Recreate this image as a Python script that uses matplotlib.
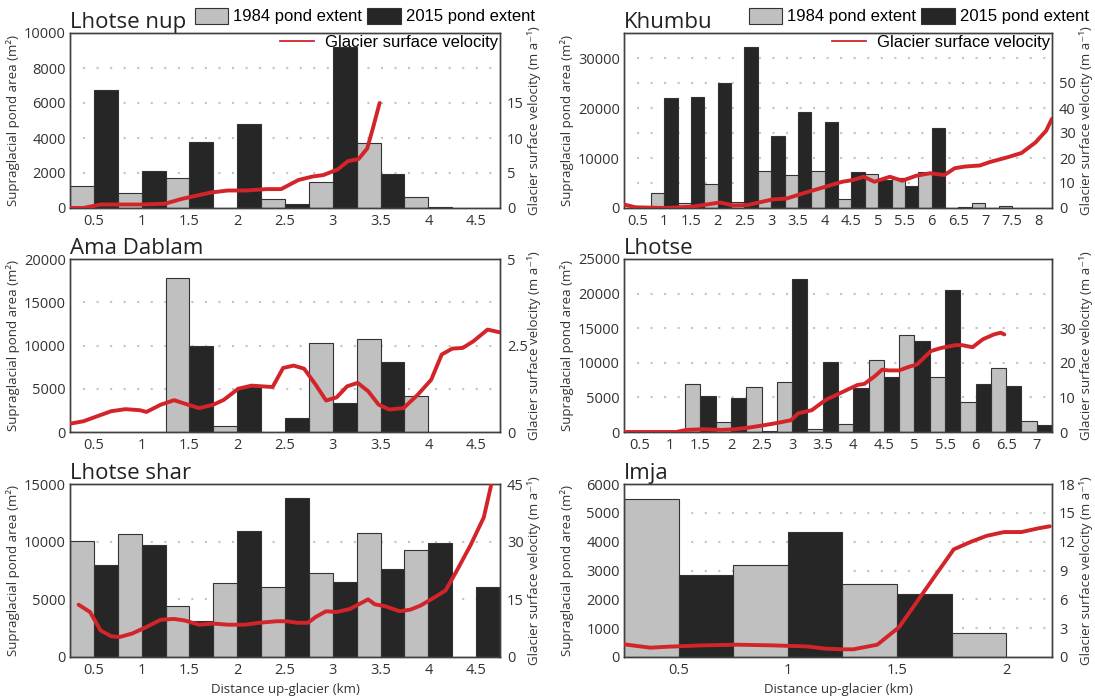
import matplotlib
matplotlib.use("Agg")
import numpy as np
from matplotlib import pyplot as plt
from matplotlib.patches import Patch
from matplotlib.lines import Line2D

plt.rcParams['font.family'] = ['Open Sans', 'DejaVu Sans']

# Lhotse nup
nup_km = [0.5, 1, 1.5, 2, 2.5, 3, 3.5, 4, 4.5]
nup_1984 = [1250, 870, 1710, 0, 520, 1480, 3740, 640, 0]
nup_2015 = [6720, 2100, 3760, 4800, 230, 9190, 1930, 40, 0]
nup_vel_km = [0.25, 0.39, 0.57, 0.98, 1.24, 1.42, 1.72, 1.90, 2.09, 2.31, 2.46, 2.64,
              2.79, 2.90, 3.05, 3.16, 3.27, 3.36, 3.42, 3.49]
nup_vel = [0, 0, 0.5, 0.5, 0.6, 1.3, 2.2, 2.5, 2.5, 2.7, 2.7, 4.0,
           4.5, 4.7, 5.5, 6.7, 7.0, 8.5, 11.4, 15.0]

# Khumbu
khu_km = [0.5, 1, 1.5, 2, 2.5, 3, 3.5, 4, 4.5, 5, 5.5, 6, 6.5, 7, 7.5, 8]
khu_1984 = [0, 3050, 1020, 4890, 1150, 7470, 6590, 7330, 1830, 6720, 6040, 7200, 0, 950, 480, 0]
khu_2015 = [0, 22060, 22200, 25050, 32250, 14400, 19280, 17100, 7200, 5570, 4350, 16090, 150, 0, 0, 0]
khu_vel_km = [0.25, 0.46, 0.99, 1.51, 2.04, 2.30, 2.56, 3.02, 3.29, 3.68, 4.00, 4.33, 4.53, 4.73,
              4.93, 5.22, 5.45, 5.71, 5.97, 6.24, 6.43, 6.63, 6.90, 7.09, 7.42, 7.68, 7.94, 8.14, 8.25]
khu_vel = [1.4, 0.3, 0, 0.5, 2.2, 1.0, 1.2, 3.4, 3.8, 6.4, 8.4, 10.5, 11.2, 12.5,
           10.5, 12.5, 10.9, 12.9, 13.9, 13.2, 15.9, 16.6, 17.0, 18.4, 20.3, 22.0, 26.2, 30.9, 35.7]

# Ama Dablam
ama_km = [0.5, 1, 1.5, 2, 2.5, 3, 3.5, 4, 4.5]
ama_1984 = [0, 0, 17800, 690, 0, 10290, 10750, 4160, 0]
ama_2015 = [0, 0, 9980, 5200, 1620, 3350, 8090, 0, 0]
ama_vel_km = [0.25, 0.39, 0.53, 0.68, 0.83, 0.98, 1.05, 1.20, 1.34, 1.45, 1.60, 1.75, 1.86, 2.01,
              2.15, 2.37, 2.48, 2.59, 2.70, 2.82, 2.93, 3.04, 3.15, 3.26, 3.37, 3.48, 3.59, 3.74,
              3.89, 4.03, 4.14, 4.25, 4.36, 4.47, 4.62, 4.75]
ama_vel = [0.24, 0.31, 0.45, 0.60, 0.66, 0.63, 0.58, 0.79, 0.92, 0.82, 0.69, 0.79, 0.93, 1.25,
           1.34, 1.30, 1.85, 1.92, 1.83, 1.37, 0.91, 1.00, 1.32, 1.42, 1.18, 0.79, 0.65, 0.69,
           1.08, 1.51, 2.24, 2.41, 2.43, 2.62, 2.96, 2.88]

# Lhotse
lho_km = [0.5, 1, 1.5, 2, 2.5, 3, 3.5, 4, 4.5, 5, 5.5, 6, 6.5, 7]
lho_1984 = [0, 0, 6870, 1450, 6480, 7250, 480, 1160, 10440, 13970, 7880, 4350, 9190, 1640]
lho_2015 = [0, 0, 5220, 4980, 200, 22100, 10150, 6290, 7930, 13100, 20550, 6870, 6620, 1060]
lho_vel_km = [0.25, 0.70, 1.10, 1.27, 1.55, 1.84, 2.07, 2.30, 2.52, 2.75, 2.98, 3.10, 3.32, 3.55,
              3.72, 3.90, 4.07, 4.18, 4.35, 4.47, 4.58, 4.75, 4.92, 5.04, 5.27, 5.44, 5.67, 5.78,
              5.95, 6.12, 6.30, 6.41, 6.47]
lho_vel = [0, 0, 0, 0.6, 0.8, 0.6, 0.8, 1.3, 1.9, 2.6, 3.4, 5.4, 6.3, 9.3,
           10.7, 12.2, 13.6, 13.9, 16.1, 18.0, 17.8, 17.8, 18.9, 19.5, 23.4, 24.3, 25.1, 25.1,
           24.5, 26.8, 28.2, 28.7, 28.2]

# Lhotse shar
sha_km = [0.5, 1, 1.5, 2, 2.5, 3, 3.5, 4, 4.5]
sha_1984 = [10040, 10670, 4410, 6430, 6030, 7300, 10790, 9290, 0]
sha_2015 = [7990, 9750, 3140, 10960, 13760, 6490, 7640, 9890, 6110]
sha_vel_km = [0.34, 0.46, 0.57, 0.68, 0.77, 0.90, 1.05, 1.20, 1.34, 1.45, 1.60, 1.75, 1.90, 2.08,
              2.23, 2.41, 2.52, 2.63, 2.74, 2.82, 2.93, 3.04, 3.18, 3.37, 3.44, 3.55, 3.70, 3.81,
              3.92, 4.07, 4.18, 4.29, 4.44, 4.58, 4.66]
sha_vel = [13.6, 11.7, 6.9, 5.4, 5.2, 6.1, 7.8, 9.7, 9.9, 9.5, 8.4, 8.7, 8.4, 8.4,
           8.9, 9.3, 9.3, 8.9, 8.9, 10.4, 11.9, 11.7, 12.5, 15.0, 13.7, 13.2, 11.9, 12.3,
           13.4, 15.6, 17.3, 22.1, 29.0, 36.3, 45.0]

# Imja
imj_km = [0.5, 1, 1.5, 2]
imj_1984 = [5480, 3195, 2540, 840]
imj_2015 = [2850, 4350, 2170, 0]
imj_vel_km = [0.253, 0.37, 0.45, 0.61, 0.77, 0.93, 1.09, 1.17, 1.25, 1.30, 1.41, 1.51,
              1.59, 1.67, 1.76, 1.84, 1.91, 1.99, 2.07, 2.15, 2.20]
imj_vel = [1.31, 0.97, 1.07, 1.21, 1.28, 1.21, 1.10, 0.87, 0.80, 0.80, 1.28, 3.11,
           5.7, 8.3, 11.2, 12.0, 12.6, 13.0, 13.0, 13.4, 13.6]

W, H = 1095, 699
GRAY = '#c0c0c0'
BLACK = '#262626'
RED = '#d3242a'
SPINE = '#404040'

def rect(x0, x1, y0, y1):
    return [x0 / W, 1 - y1 / H, (x1 - x0) / W, (y1 - y0) / H]

cols = [(70, 500), (624, 1052)]
rows = [(33, 208), (259, 432), (484, 657)]

panels = [
    dict(title='Lhotse nup', km=nup_km, a=nup_1984, b=nup_2015, vk=nup_vel_km, v=nup_vel,
         ylim=10000, ystep=2000, grid=[2000, 4000, 6000, 8000], vlim=25, vticks=[0, 5, 10, 15],
         xlim=(0.25, 4.75), pos=(0, 0), legend=True),
    dict(title='Khumbu', km=khu_km, a=khu_1984, b=khu_2015, vk=khu_vel_km, v=khu_vel,
         ylim=35000, ystep=10000, grid=[5000, 10000, 15000, 20000, 25000, 30000], vlim=70,
         vticks=[0, 10, 20, 30, 40, 50], xlim=(0.25, 8.25), pos=(1, 0), legend=True),
    dict(title='Ama Dablam', km=ama_km, a=ama_1984, b=ama_2015, vk=ama_vel_km, v=ama_vel,
         ylim=20000, ystep=5000, grid=[5000, 10000, 15000], vlim=5, vticks=[0, 2.5, 5],
         xlim=(0.25, 4.75), pos=(0, 1)),
    dict(title='Lhotse', km=lho_km, a=lho_1984, b=lho_2015, vk=lho_vel_km, v=lho_vel,
         ylim=25000, ystep=5000, grid=[5000, 10000, 15000, 20000], vlim=50, vticks=[0, 10, 20, 30],
         xlim=(0.25, 7.25), pos=(1, 1)),
    dict(title='Lhotse shar', km=sha_km, a=sha_1984, b=sha_2015, vk=sha_vel_km, v=sha_vel,
         ylim=15000, ystep=5000, grid=[5000, 10000], vlim=45, vticks=[0, 15, 30, 45],
         xlim=(0.25, 4.75), pos=(0, 2), xlabel=True),
    dict(title='Imja', km=imj_km, a=imj_1984, b=imj_2015, vk=imj_vel_km, v=imj_vel,
         ylim=6000, ystep=1000, grid=[1000, 2000, 3000, 4000, 5000], vlim=18,
         vticks=[0, 3, 6, 9, 12, 15, 18], xlim=(0.25, 2.21), pos=(1, 2), xlabel=True),
]

fig = plt.figure(figsize=(W / 100, H / 100), dpi=100)

for p in panels:
    c, r = p['pos']
    x0, x1 = cols[c]
    y0, y1 = rows[r]
    ax = fig.add_axes(rect(x0, x1, y0, y1))
    km = np.array(p['km'], dtype=float)
    for g in p['grid']:
        ax.axhline(g, xmin=0.03, xmax=0.985, color='#c4c4c4', lw=1.5,
                   ls=(0, (1, 5.5)), zorder=0.5)
    ax.bar(km - 0.125, p['a'], width=0.25, color=GRAY, edgecolor='#333333', lw=0.8, zorder=2)
    ax.bar(km + 0.125, p['b'], width=0.25, color=BLACK, edgecolor='#333333', lw=0.8, zorder=2)
    ax.set_xlim(*p['xlim'])
    ax.set_ylim(0, p['ylim'])
    ax.set_yticks(np.arange(0, p['ylim'] + 1, p['ystep']))
    ax.set_xticks(km)
    ax.set_xticklabels(['{:g}'.format(k) for k in km])
    ax.tick_params(length=0, labelsize=10.5, colors='#333333', pad=3)
    ax.tick_params(axis='x', pad=4)
    ax.set_ylabel('Supraglacial pond area (m²)', fontsize=9.5, color='#333333')
    ax.yaxis.set_label_coords(-50 / (x1 - x0), 0.5)
    for s in ax.spines.values():
        s.set_color(SPINE)
        s.set_linewidth(1)
    ax.set_title(p['title'], loc='left', fontsize=16, pad=3, color='#222222')
    if p.get('xlabel'):
        ax.set_xlabel('Distance up-glacier (km)', fontsize=9.5, color='#333333', labelpad=4)

    ax2 = ax.twinx()
    ax2.plot(p['vk'], p['v'], color=RED, lw=2.8, solid_capstyle='round', zorder=3)
    ax2.set_ylim(0, p['vlim'])
    ax2.set_yticks(p['vticks'])
    ax2.set_yticklabels(['{:g}'.format(t) for t in p['vticks']])
    ax2.tick_params(length=0, labelsize=10.5, colors='#333333', pad=5)
    ax2.set_ylabel('Glacier surface velocity (m a⁻¹)', fontsize=9.5, color='#333333')
    ax2.yaxis.set_label_coords(1 + 27 / (x1 - x0), 0.5)
    for s in ax2.spines.values():
        s.set_color(SPINE)
        s.set_linewidth(1)

    if p.get('legend'):
        prop = {'family': 'Liberation Sans', 'size': 12}
        handles = [Patch(facecolor=GRAY, edgecolor='#333333', lw=0.8),
                   Patch(facecolor=BLACK, edgecolor='#333333', lw=0.8)]
        leg = ax2.legend(handles, ['1984 pond extent', '2015 pond extent'], ncol=2,
                         loc='center left', bbox_to_anchor=(125 / (x1 - x0), 1 + 17 / (y1 - y0)),
                         frameon=False, prop=prop, handlelength=2.0, handleheight=1.1,
                         handletextpad=0.3, columnspacing=0.3, borderpad=0, borderaxespad=0)
        ax2.add_artist(leg)
        ax2.legend([Line2D([], [], color=RED, lw=1.3)], ['Glacier surface velocity'],
                   loc='upper right', bbox_to_anchor=(1.0, 1.0), frameon=False, prop=prop,
                   handlelength=2.0, handletextpad=0.7, borderpad=0.1, borderaxespad=0)

fig.savefig('out.png', dpi=100)
